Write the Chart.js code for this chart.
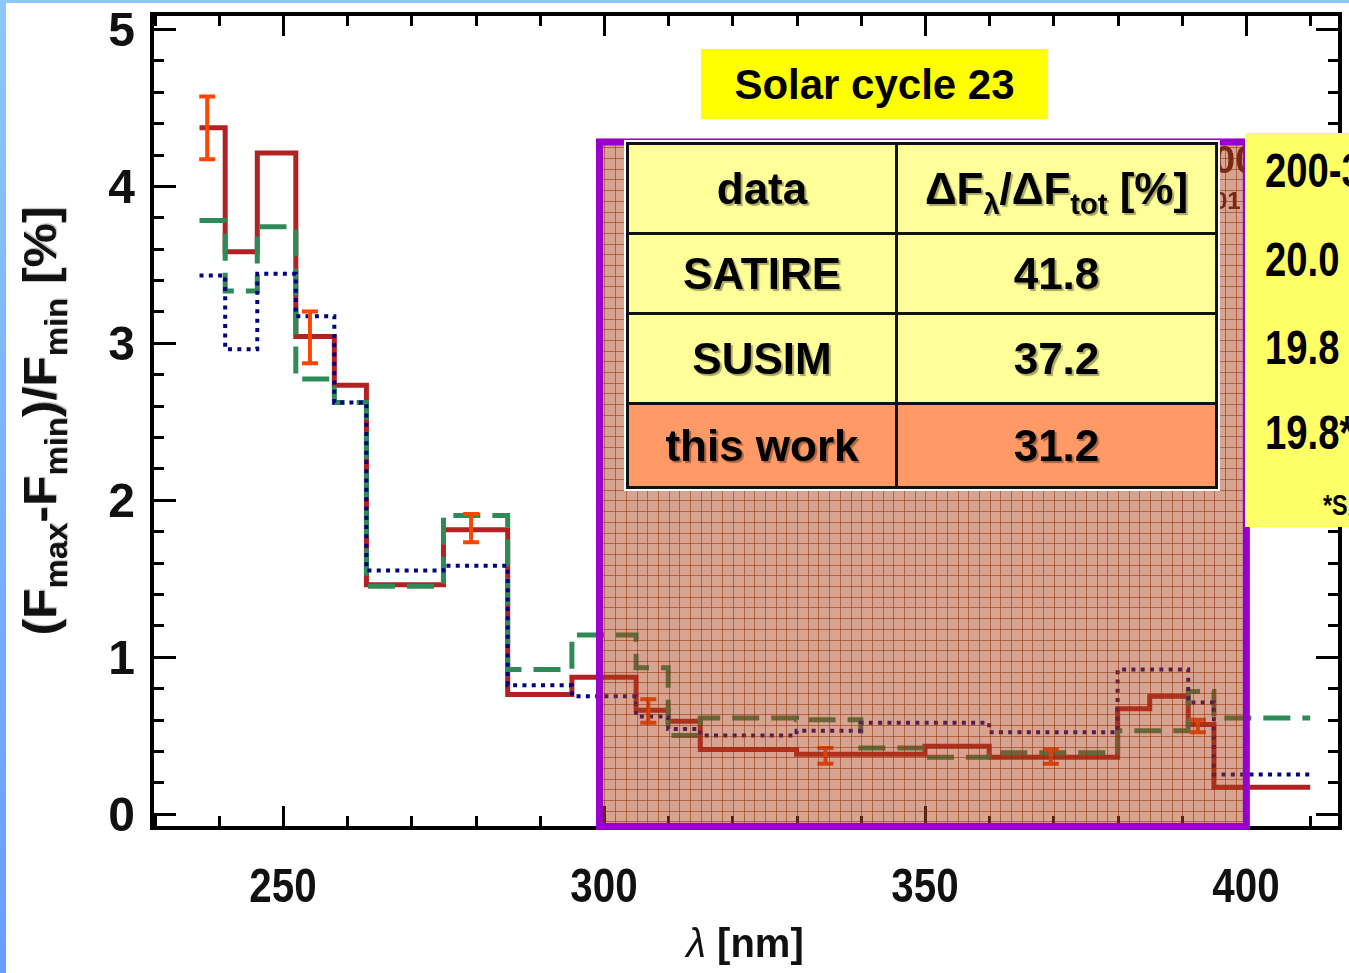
<!DOCTYPE html>
<html>
<head>
<meta charset="utf-8">
<script src="https://cdn.jsdelivr.net/npm/chart.js@4.4.1/dist/chart.umd.min.js"></script>
<style>
body { margin: 0; background: #fff; }
#wrap { position: relative; width: 1349px; height: 973px; overflow: hidden; background: #fff; font-family: "Liberation Sans", Arial, sans-serif; }
#c { position: absolute; left: 0; top: 0; }
.abs { position: absolute; }
#edgeL { left: 0; top: 0; width: 6px; height: 973px; background: linear-gradient(#8ec6ff, #6a9cff); }
#edgeT { left: 0; top: 0; width: 1349px; height: 3px; background: #8ec6ff; }
#ytitle { left: -210px; top: 391px; width: 500px; height: 60px; line-height: 60px; text-align: center; transform: rotate(-90deg) scaleX(1.06); font-weight: bold; font-size: 47px; white-space: nowrap; color: #111; text-shadow: 1px 1px 1px rgba(0,0,0,.3); }
#ytitle sub, #tbl sub { font-size: 0.66em; vertical-align: -0.35em; line-height: 0; }
#xtitle { left: 545px; top: 921px; width: 400px; text-align: center; font-weight: bold; font-size: 40px; color: #111; }
#xtitle i { font-weight: normal; }
#solar { left: 701px; top: 49px; width: 347px; height: 70px; line-height: 72px; background: #ffff00; text-align: center; font-weight: bold; font-size: 42px; color: #000; }
#behind { left: 1214px; top: 140px; width: 29px; height: 80px; overflow: hidden; color: #7a2a12; font-weight: bold; }
#tbl { position: absolute; left: 626px; top: 142px; width: 589px; height: 346px; border-collapse: collapse; table-layout: fixed; outline: 2px solid #fff; }
#tbl td { border: 3px solid #111; text-align: center; font-weight: bold; font-size: 44px; color: #000; padding: 0; text-shadow: 2px 2px 1px rgba(0,0,0,.35); background: #ffff99; }
#tbl tr.me td { background: #ff9966; }
#side { left: 1245px; top: 133px; width: 120px; height: 394px; background: #ffff66; overflow: hidden; }
.sv { position: absolute; left: 20px; font-weight: bold; font-size: 49px; line-height: 50px; transform: scaleX(0.78); transform-origin: left center; white-space: nowrap; color: #000; }
</style>
</head>
<body>
<div id="wrap">
  <canvas id="c" width="1349" height="973"></canvas>
  <div id="edgeL" class="abs"></div>
  <div id="edgeT" class="abs"></div>
  <div id="ytitle" class="abs">(F<sub>max</sub>-F<sub>min</sub>)/F<sub>min</sub> [%]</div>
  <div id="xtitle" class="abs"><i>λ</i> [nm]</div>
  <div id="solar" class="abs">Solar cycle 23</div>
  <div id="behind" class="abs"><div style="font-size:38px;line-height:40px">00</div><div style="font-size:24px;line-height:30px;margin-top:6px">01</div></div>
  <table id="tbl">
    <colgroup><col style="width:269px"><col style="width:320px"></colgroup>
    <tr style="height:90px"><td>data</td><td>ΔF<sub>λ</sub>/ΔF<sub>tot</sub> [%]</td></tr>
    <tr style="height:80px"><td>SATIRE</td><td>41.8</td></tr>
    <tr style="height:90px"><td>SUSIM</td><td>37.2</td></tr>
    <tr style="height:84px" class="me"><td>this work</td><td>31.2</td></tr>
  </table>
  <div id="side" class="abs">
    <div class="sv" style="top:12px">200-300</div>
    <div class="sv" style="top:101px">20.0</div>
    <div class="sv" style="top:189px">19.8</div>
    <div class="sv" style="top:274px">19.8*</div>
    <div class="sv" style="top:347px;left:78px;font-size:30px">*SATIRE</div>
  </div>
</div>
<script>
// bin edges in nm, one value per bin
const edges = [237, 241, 246, 252, 258, 263, 275, 285, 295, 305, 310, 315, 330, 340, 350, 360, 380, 385, 391, 395, 410];
const thisWork = [4.37, 3.58, 4.21, 3.04, 2.73, 1.46, 1.81, 0.76, 0.87, 0.66, 0.59, 0.41, 0.38, 0.38, 0.43, 0.36, 0.67, 0.75, 0.57, 0.17];
const satire = [3.78, 3.33, 3.74, 2.77, 2.62, 1.45, 1.90, 0.92, 1.14, 0.93, 0.50, 0.61, 0.60, 0.42, 0.36, 0.39, 0.53, 0.53, 0.78, 0.61];
const susim = [3.43, 2.96, 3.44, 3.17, 2.62, 1.55, 1.58, 0.82, 0.75, 0.62, 0.54, 0.50, 0.53, 0.58, 0.58, 0.52, 0.92, 0.92, 0.71, 0.25];

// error bars of this work
const errX = [238.2, 254.2, 279.3, 306.9, 334.5, 369.6, 392.5];
const errLo = [4.17, 2.87, 1.73, 0.58, 0.32, 0.32, 0.52];
const errHi = [4.57, 3.20, 1.91, 0.73, 0.42, 0.41, 0.60];

const xTicks = [250, 300, 350, 400];
const yTicks = [0, 1, 2, 3, 4, 5];

// shaded band 300-400 nm
const band = { x0: 299.3, x1: 400.05, y0: -0.08, y1: 4.28 };

function steps(vals) {
  return edges.map((e, i) => ({ x: e, y: vals[Math.min(i, vals.length - 1)] }));
}

const framePlugin = {
  id: 'frame',
  beforeDatasetsDraw(chart) {
    const { ctx, chartArea: a, scales: { x, y } } = chart;
    ctx.save();
    ctx.strokeStyle = '#000';
    ctx.lineWidth = 3;
    ctx.beginPath();
    for (let v = 0; v <= 5.001; v += 0.2) {
      const py = Math.round(y.getPixelForValue(v)) + 0.5;
      const major = Math.abs(v - Math.round(v)) < 0.01;
      const len = major ? 24 : 12;
      ctx.moveTo(a.left, py); ctx.lineTo(a.left + len, py);
      ctx.moveTo(a.right, py); ctx.lineTo(a.right - len, py);
    }
    for (let v = 230; v <= 414; v += 10) {
      const px = Math.round(x.getPixelForValue(v)) + 0.5;
      const len = v % 50 === 0 ? 22 : 12;
      ctx.moveTo(px, a.bottom); ctx.lineTo(px, a.bottom - len);
      ctx.moveTo(px, a.top); ctx.lineTo(px, a.top + len);
    }
    ctx.stroke();
    ctx.lineWidth = 4;
    ctx.strokeRect(a.left, a.top, a.right - a.left, a.bottom - a.top);
    ctx.restore();
  },
  afterDatasetsDraw(chart) {
    const { ctx, scales: { x, y } } = chart;
    ctx.save();
    // error bars
    ctx.strokeStyle = '#ff4500';
    ctx.lineWidth = 4;
    ctx.beginPath();
    for (let i = 0; i < errX.length; i++) {
      const px = x.getPixelForValue(errX[i]);
      const lo = y.getPixelForValue(errLo[i]);
      const hi = y.getPixelForValue(errHi[i]);
      ctx.moveTo(px, lo); ctx.lineTo(px, hi);
      ctx.moveTo(px - 8, lo); ctx.lineTo(px + 8, lo);
      ctx.moveTo(px - 8, hi); ctx.lineTo(px + 8, hi);
    }
    ctx.stroke();
    // band overlay
    const bx0 = x.getPixelForValue(band.x0), bx1 = x.getPixelForValue(band.x1);
    const by0 = y.getPixelForValue(band.y0), by1 = y.getPixelForValue(band.y1);
    ctx.fillStyle = 'rgba(169,65,25,0.48)';
    ctx.fillRect(bx0, by1, bx1 - bx0, by0 - by1);
    ctx.strokeStyle = 'rgba(150,45,10,0.55)';
    ctx.lineWidth = 1;
    ctx.beginPath();
    for (let gx = bx0 + 5; gx < bx1; gx += 10.7) {
      ctx.moveTo(Math.round(gx) + 0.5, by1); ctx.lineTo(Math.round(gx) + 0.5, by0);
    }
    for (let gy = by0 - 5; gy > by1; gy -= 10.7) {
      ctx.moveTo(bx0, Math.round(gy) + 0.5); ctx.lineTo(bx1, Math.round(gy) + 0.5);
    }
    ctx.stroke();
    ctx.strokeStyle = '#9900cc';
    ctx.lineWidth = 7;
    ctx.strokeRect(bx0, by1, bx1 - bx0, by0 - by1);
    ctx.restore();
  },
  afterDraw(chart) {
    // x tick labels, condensed like the original
    const { ctx, scales: { x } } = chart;
    ctx.save();
    ctx.fillStyle = '#111';
    ctx.font = 'bold 48px "Liberation Sans"';
    ctx.textAlign = 'center';
    ctx.textBaseline = 'middle';
    xTicks.forEach(v => {
      ctx.save();
      ctx.translate(x.getPixelForValue(v), 889);
      ctx.scale(0.84, 1);
      ctx.fillText(String(v), 0, 0);
      ctx.restore();
    });
    ctx.restore();
  }
};

new Chart(document.getElementById('c'), {
  type: 'line',
  data: {
    datasets: [
      { label: 'this work', data: steps(thisWork), borderColor: '#b22222', borderWidth: 5, order: 3 },
      { label: 'SATIRE', data: steps(satire), borderColor: '#2e8b57', borderWidth: 5, borderDash: [27, 12], order: 2 },
      { label: 'SUSIM', data: steps(susim), borderColor: '#000080', borderWidth: 4, borderDash: [4, 5.3], order: 1 }
    ]
  },
  options: {
    responsive: false,
    animation: false,
    devicePixelRatio: 1,
    layout: { padding: { left: 0, right: 9, top: 14, bottom: 0 } },
    elements: {
      point: { radius: 0 },
      line: { stepped: 'before', fill: false, tension: 0, borderCapStyle: 'butt', borderJoinStyle: 'miter' }
    },
    plugins: { legend: { display: false }, tooltip: { enabled: false } },
    scales: {
      x: {
        type: 'linear', min: 229.6, max: 414.64,
        grid: { display: false, drawTicks: false }, border: { display: false },
        afterBuildTicks: s => { s.ticks = xTicks.map(v => ({ value: v })); },
        afterFit: s => { s.height = 145; s.paddingLeft = 0; s.paddingRight = 0; },
        ticks: { display: false }
      },
      y: {
        type: 'linear', min: -0.09, max: 5.095,
        grid: { display: false, drawTicks: false }, border: { display: false },
        afterBuildTicks: s => { s.ticks = yTicks.map(v => ({ value: v })); },
        afterFit: s => { s.width = 152; s.paddingTop = 0; s.paddingBottom = 0; },
        ticks: { color: '#111', padding: 17, labelOffset: 4, font: { family: 'Liberation Sans', weight: 'bold', size: 48 } }
      }
    }
  },
  plugins: [framePlugin]
});
</script>
</body>
</html>
